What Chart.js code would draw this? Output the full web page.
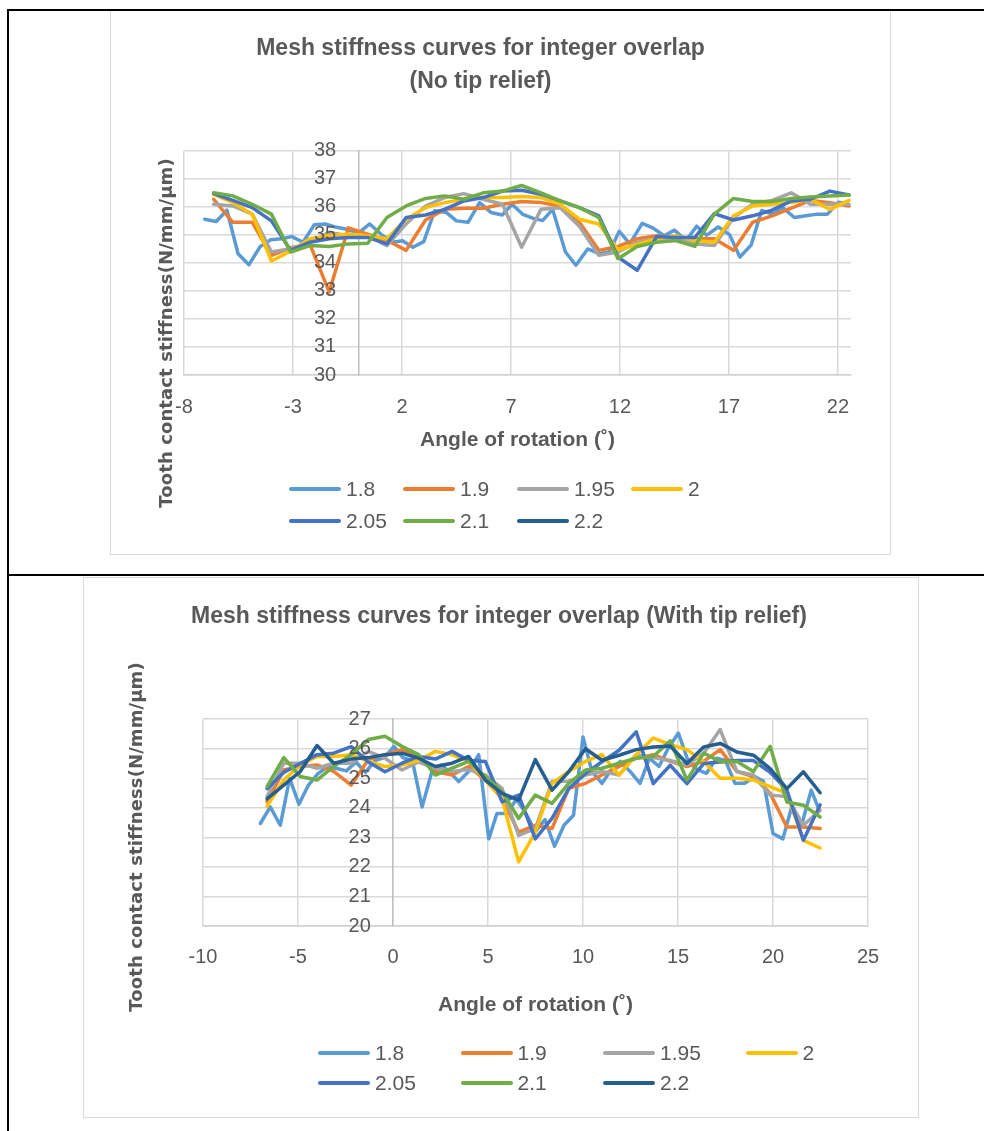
<!DOCTYPE html>
<html>

<head>
  <meta charset="utf-8" />
  <script src="https://cdn.jsdelivr.net/npm/chart.js"></script>
  <style>
    body { margin: 0; background: #fff; width: 984px; height: 1131px; position: relative; overflow: hidden;
      font-family: "Liberation Sans", Arial, sans-serif; }
    .box { position: absolute; border: 1px solid #d9d9d9; box-sizing: border-box; }
    .rule { position: absolute; background: #000; }
    canvas { position: absolute; }
    .legend .item { position: absolute; height: 24px; display: flex; align-items: center;
      font-size: 21px; color: #595959; white-space: nowrap; }
    .legend .swatch { display: inline-block; width: 52px; height: 4px; border-radius: 2px; margin-right: 5px; }
  </style>
</head>

<body>

  <div class="box" style="left:110px;top:10px;width:781px;height:545px"></div>
  <div class="box" style="left:83px;top:577px;width:836px;height:541px"></div>

  <canvas id="chart1" width="780" height="544" style="left:110px;top:10px"></canvas>
  <canvas id="chart2" width="834" height="540" style="left:84px;top:577px"></canvas>

  <div id="legend1" class="legend"></div>
  <div id="legend2" class="legend"></div>

  <!-- table lines of the page -->
  <div class="rule" style="left:7px;top:9px;width:977px;height:2px"></div>
  <div class="rule" style="left:7px;top:9px;width:2px;height:1122px"></div>
  <div class="rule" style="left:7px;top:574px;width:977px;height:2px"></div>

  <script>
    const seriesNames = ['1.8', '1.9', '1.95', '2', '2.05', '2.1', '2.2'];
    const seriesColors = ['#5B9BD5', '#ED7D31', '#A5A5A5', '#FFC000', '#4472C4', '#70AD47', '#255E91'];

    // ---- chart 1: no tip relief ----
    const xTicks1 = [-8, -3, 2, 7, 12, 17, 22];
    const angles1 = [-6.64, -5.76, -4.87, -3.99, -3.11, -2.22, -1.34, -0.46, 0.43, 1.31, 2.19, 3.08, 3.96, 4.84,
      5.73, 6.61, 7.49, 8.38, 9.26, 10.14, 11.03, 11.91, 12.79, 13.68, 14.56, 15.44, 16.33, 17.21, 18.09, 18.98,
      19.86, 20.74, 21.63, 22.51];
    // the 1.8 curve has about twice as many points
    const angles1Fine = [-7.05, -6.52, -6.03, -5.52, -5.02, -4.50, -4.02, -3.54, -3.05, -2.54, -2.02, -1.52, -1.01,
      -0.52, 0.00, 0.52, 1.03, 1.55, 2.02, 2.50, 3.00, 3.50, 4.03, 4.50, 5.03, 5.56, 6.08, 6.60, 7.05, 7.55, 8.02,
      8.45, 8.91, 9.50, 9.98, 10.52, 11.05, 11.51, 11.97, 12.45, 13.02, 13.50, 14.03, 14.50, 15.03, 15.52, 15.98,
      16.51, 17.03, 17.50, 18.02, 18.50, 19.00, 19.47, 20.00, 20.53, 21.07, 21.52, 22.02, 22.40];

    const noRelief18 = [35.55, 35.47, 35.87, 34.32, 33.93, 34.58, 34.82, 34.85, 34.93, 34.73, 35.35, 35.38, 35.26,
      35.19, 35.05, 35.38, 35.02, 34.73, 34.78, 34.55, 34.75, 35.85, 35.79, 35.49, 35.44, 36.14, 35.79, 35.70, 36.08,
      35.72, 35.58, 35.50, 35.90, 34.38, 33.91, 34.49, 34.32, 34.38, 35.12, 34.67, 35.40, 35.24, 34.96, 35.16, 34.79,
      35.30, 34.98, 35.27, 35.00, 34.20, 34.63, 35.86, 35.73, 35.96, 35.61, 35.67, 35.73, 35.73, 36.15, 36.10];
    const noRelief19 = [36.26, 35.44, 35.44, 34.26, 34.53, 34.65, 32.96, 35.24, 35.02, 34.80, 34.44, 35.52, 35.90,
      35.94, 35.94, 36.08, 36.18, 36.14, 36.02, 35.44, 34.44, 34.58, 34.85, 34.96, 34.90, 34.85, 34.85, 34.44, 35.44,
      35.67, 35.94, 36.22, 36.14, 36.02];
    const noRelief195 = [36.08, 36.02, 35.73, 34.38, 34.50, 34.73, 35.08, 34.96, 34.96, 34.61, 35.38, 36.02, 36.32,
      36.46, 36.26, 36.08, 34.55, 35.90, 35.96, 35.30, 34.26, 34.38, 34.73, 34.85, 34.90, 34.67, 34.61, 35.61, 36.08,
      36.22, 36.49, 36.08, 36.08, 36.08];
    const noRelief20 = [36.44, 36.14, 35.73, 34.06, 34.41, 34.85, 34.96, 35.02, 34.96, 34.85, 35.55, 35.96, 36.14,
      36.26, 36.32, 36.32, 36.36, 36.32, 36.08, 35.55, 35.38, 34.46, 34.65, 34.85, 34.96, 34.79, 34.73, 35.67, 36.02,
      36.08, 36.14, 36.26, 35.90, 36.22];
    const noRelief205 = [36.46, 36.22, 35.96, 35.49, 34.44, 34.73, 34.85, 34.90, 34.90, 34.67, 35.61, 35.70, 35.90,
      36.20, 36.32, 36.55, 36.58, 36.44, 36.20, 35.96, 35.67, 34.20, 33.73, 34.93, 34.90, 34.90, 35.75, 35.52, 35.67,
      35.87, 36.20, 36.26, 36.55, 36.41];
    const noRelief21 = [36.49, 36.38, 36.08, 35.73, 34.38, 34.61, 34.58, 34.67, 34.69, 35.61, 36.02, 36.29, 36.38,
      36.26, 36.49, 36.55, 36.75, 36.49, 36.20, 35.96, 35.61, 34.14, 34.58, 34.73, 34.79, 34.58, 35.73, 36.29, 36.18,
      36.18, 36.29, 36.34, 36.38, 36.41];
    const noRelief22 = []; // no 2.2 curve is visible in this plot

    // ---- chart 2: with tip relief ----
    const xTicks2 = [-10, -5, 0, 5, 10, 15, 20, 25];
    const angles2 = [-6.63, -5.75, -4.88, -4.00, -3.12, -2.20, -1.30, -0.42, 0.47, 1.35, 2.23, 3.11, 3.98, 4.86,
      5.74, 6.61, 7.49, 8.37, 9.25, 10.13, 11.00, 11.90, 12.80, 13.70, 14.59, 15.47, 16.35, 17.22, 18.10, 18.97,
      19.85, 20.73, 21.60, 22.48];
    const angles2Fine = [-6.98, -6.46, -5.93, -5.44, -4.95, -4.45, -3.95, -3.45, -2.95, -2.45, -1.95, -1.45, -0.95,
      -0.45, 0.05, 0.52, 1.02, 1.53, 2.05, 2.55, 3.00, 3.46, 3.98, 4.51, 5.04, 5.47, 6.00, 6.50, 7.00, 7.50, 8.00,
      8.50, 9.00, 9.50, 10.00, 10.47, 11.00, 11.50, 11.96, 12.48, 13.00, 13.50, 14.00, 14.49, 15.02, 15.54, 16.00,
      16.50, 17.03, 17.50, 18.00, 18.51, 19.04, 19.50, 20.00, 20.52, 20.96, 21.50, 22.01, 22.45];

    const tipRelief18 = [23.47, 24.03, 23.41, 25.00, 24.12, 24.77, 25.16, 25.39, 25.33, 25.25, 25.55, 25.20, 25.60,
      25.70, 26.08, 25.70, 25.60, 24.03, 25.23, 25.45, 25.20, 24.89, 25.23, 25.80, 22.95, 23.81, 23.81, 24.30, 23.80,
      23.20, 23.60, 22.70, 23.41, 23.75, 26.40, 25.23, 24.83, 25.30, 25.57, 25.23, 24.83, 25.68, 25.40, 26.02, 26.53,
      25.57, 25.30, 25.17, 25.68, 25.60, 24.83, 24.83, 25.06, 24.90, 23.13, 22.95, 23.98, 23.40, 24.60, 23.90];
    const tipRelief19 = [24.20, 25.28, 25.40, 25.45, 25.23, 24.77, 25.63, 25.80, 25.97, 25.68, 25.23, 25.11, 25.40,
      24.94, 24.32, 23.18, 23.41, 23.30, 24.66, 24.83, 25.11, 25.40, 25.68, 25.80, 25.57, 25.40, 25.57, 25.97, 25.23,
      25.06, 24.49, 23.35, 23.35, 23.30];
    const tipRelief195 = [24.38, 25.51, 25.51, 25.34, 25.51, 25.51, 25.91, 25.68, 25.28, 25.55, 25.34, 25.23, 25.30,
      25.11, 24.66, 23.07, 23.30, 24.89, 24.90, 25.11, 25.23, 25.11, 25.80, 25.70, 25.60, 25.45, 25.85, 26.65, 25.23,
      25.11, 24.43, 24.38, 23.41, 23.92];
    const tipRelief20 = [24.05, 24.94, 25.45, 25.74, 25.74, 25.80, 25.57, 25.40, 25.45, 25.60, 25.91, 25.80, 25.57,
      24.94, 24.32, 22.17, 23.18, 24.83, 25.23, 25.57, 25.80, 25.11, 25.80, 26.36, 26.14, 25.97, 25.57, 25.00, 25.00,
      24.94, 24.72, 24.49, 22.90, 22.64];
    const tipRelief205 = [24.65, 25.20, 25.50, 25.80, 25.85, 26.07, 25.55, 25.22, 25.51, 25.74, 25.65, 25.91, 25.60,
      25.57, 24.20, 24.43, 22.95, 23.64, 24.65, 25.16, 25.56, 25.95, 26.57, 24.82, 25.44, 24.82, 25.50, 25.55, 25.60,
      25.60, 25.20, 24.60, 22.90, 24.10];
    const tipRelief21 = [24.72, 25.70, 25.06, 24.94, 25.40, 25.80, 26.31, 26.42, 26.08, 25.80, 25.11, 25.34, 25.57,
      25.06, 24.55, 23.64, 24.43, 24.15, 24.83, 25.28, 25.34, 25.51, 25.68, 25.74, 26.27, 24.94, 25.85, 25.57, 25.57,
      25.23, 26.08, 24.20, 24.09, 23.69];
    const tipRelief22 = [24.30, 24.77, 25.23, 26.11, 25.51, 25.65, 25.70, 25.80, 25.85, 25.68, 25.40, 25.51, 25.74,
      24.94, 24.49, 24.26, 25.63, 24.60, 25.22, 26.00, 25.61, 25.78, 25.97, 26.06, 26.09, 25.50, 26.06, 26.18, 25.89,
      25.78, 25.33, 24.65, 25.22, 24.51];

    const yTitleText = 'Tooth contact stiffness(N/mm/µm)';
    const xTitleText = 'Angle of rotation (˚)';

    Chart.defaults.font.family = '"Liberation Sans", Arial, sans-serif';
    Chart.defaults.color = '#595959';

    // rotated y title, drawn left of the plot like Excel does
    const yTitlePlugin = {
      id: 'yTitle',
      afterDraw(chart, args, opts) {
        const ctx = chart.ctx;
        ctx.save();
        ctx.translate(opts.x, opts.y);
        ctx.rotate(-Math.PI / 2);
        ctx.font = 'bold 18px "DejaVu Sans"';
        ctx.letterSpacing = '0.1px';
        ctx.fillStyle = '#595959';
        ctx.textAlign = 'center';
        ctx.textBaseline = 'middle';
        ctx.fillText(yTitleText, 0, 0);
        ctx.restore();
      }
    };

    function points(xs, ys) {
      return ys.map((y, i) => ({ x: xs[i], y: y }));
    }

    function makeChart(id, c) {
      return new Chart(document.getElementById(id), {
        type: 'scatter',
        plugins: [yTitlePlugin],
        data: {
          datasets: c.series.map((ys, i) => ({
            label: seriesNames[i],
            data: points(i === 0 ? c.xFine : c.x, ys),
            xAxisID: 'x',
            yAxisID: 'y',
            borderColor: seriesColors[i],
            backgroundColor: seriesColors[i],
            showLine: true,
            borderWidth: 3.5,
            pointRadius: 0,
            tension: 0,
            borderJoinStyle: 'round',
            borderCapStyle: 'round',
            order: seriesNames.length - i
          }))
        },
        options: {
          responsive: false,
          animation: false,
          devicePixelRatio: 1,
          layout: { padding: c.padding },
          plugins: {
            legend: { display: false },
            tooltip: { enabled: false },
            title: {
              display: true, text: c.title, color: '#595959',
              font: { size: 23, weight: 'bold', lineHeight: 1.4 },
              padding: c.titlePadding
            },
            yTitle: c.yTitle
          },
          scales: {
            x: {
              type: 'linear', position: 'bottom', min: c.xMin, max: c.xMax,
              afterBuildTicks: s => { s.ticks = c.xTicks.map(v => ({ value: v })); },
              afterFit: s => { s.height = c.xAxisHeight; },
              grid: { color: '#d9d9d9', lineWidth: 1.5, drawTicks: false },
              border: { color: '#d0d0d0', width: 1.5 },
              ticks: { color: '#595959', font: { size: 20 }, padding: c.xTickPad },
              title: {
                display: true, text: xTitleText, color: '#595959',
                font: { size: 21, weight: 'bold' }, padding: 0
              }
            },
            y: {
              type: 'linear', position: { x: 0 }, min: c.yMin, max: c.yMax,
              ticks: {
                stepSize: 1, autoSkip: false, z: 1, color: '#595959', font: { size: 20 },
                // labels sit left of the x = 0 axis line
                callback: v => v + '    '
              },
              grid: { color: '#d9d9d9', lineWidth: 1.5, drawTicks: false },
              border: { color: '#bfbfbf', width: 1.5 }
            },
            // empty left strip: room for the rotated title, keeps the chart title centred like the original
            gutter: {
              type: 'linear', axis: 'y', position: 'left',
              afterFit: s => { s.width = c.gutter; },
              grid: { display: false, drawTicks: false },
              border: { display: false },
              ticks: { display: false }
            }
          }
        }
      });
    }

    makeChart('chart1', {
      title: ['Mesh stiffness curves for integer overlap', '(No tip relief)'],
      series: [noRelief18, noRelief19, noRelief195, noRelief20, noRelief205, noRelief21, noRelief22],
      x: angles1, xFine: angles1Fine, xTicks: xTicks1,
      xMin: -8, xMax: 22.6, yMin: 30, yMax: 38,
      padding: { left: 0, right: 39, top: 0, bottom: 101 },
      gutter: 74,
      titlePadding: { top: 23, bottom: 53 },
      xTickPad: 20, xAxisHeight: 78,
      yTitle: { x: 57, y: 323 }
    });

    makeChart('chart2', {
      title: 'Mesh stiffness curves for integer overlap (With tip relief)',
      series: [tipRelief18, tipRelief19, tipRelief195, tipRelief20, tipRelief205, tipRelief21, tipRelief22],
      x: angles2, xFine: angles2Fine, xTicks: xTicks2,
      xMin: -10, xMax: 25, yMin: 20, yMax: 27,
      padding: { left: 46, right: 50, top: 0, bottom: 99 },
      gutter: 73,
      titlePadding: { top: 24, bottom: 86 },
      xTickPad: 19, xAxisHeight: 92,
      yTitle: { x: 53, y: 260 }
    });

    // Excel-style legend: four fixed columns, second row aligned under the first
    function buildLegend(id, x0, pitch, rows) {
      const el = document.getElementById(id);
      seriesNames.forEach((name, i) => {
        const item = document.createElement('div');
        item.className = 'item';
        item.style.left = (x0 + (i % 4) * pitch) + 'px';
        item.style.top = (rows[Math.floor(i / 4)] - 12) + 'px';
        const sw = document.createElement('span');
        sw.className = 'swatch';
        sw.style.background = seriesColors[i];
        item.appendChild(sw);
        item.appendChild(document.createTextNode(name));
        el.appendChild(item);
      });
    }

    buildLegend('legend1', 289, 114, [489, 521]);
    buildLegend('legend2', 318, 142.5, [1053, 1083]);
  </script>

</body>

</html>
